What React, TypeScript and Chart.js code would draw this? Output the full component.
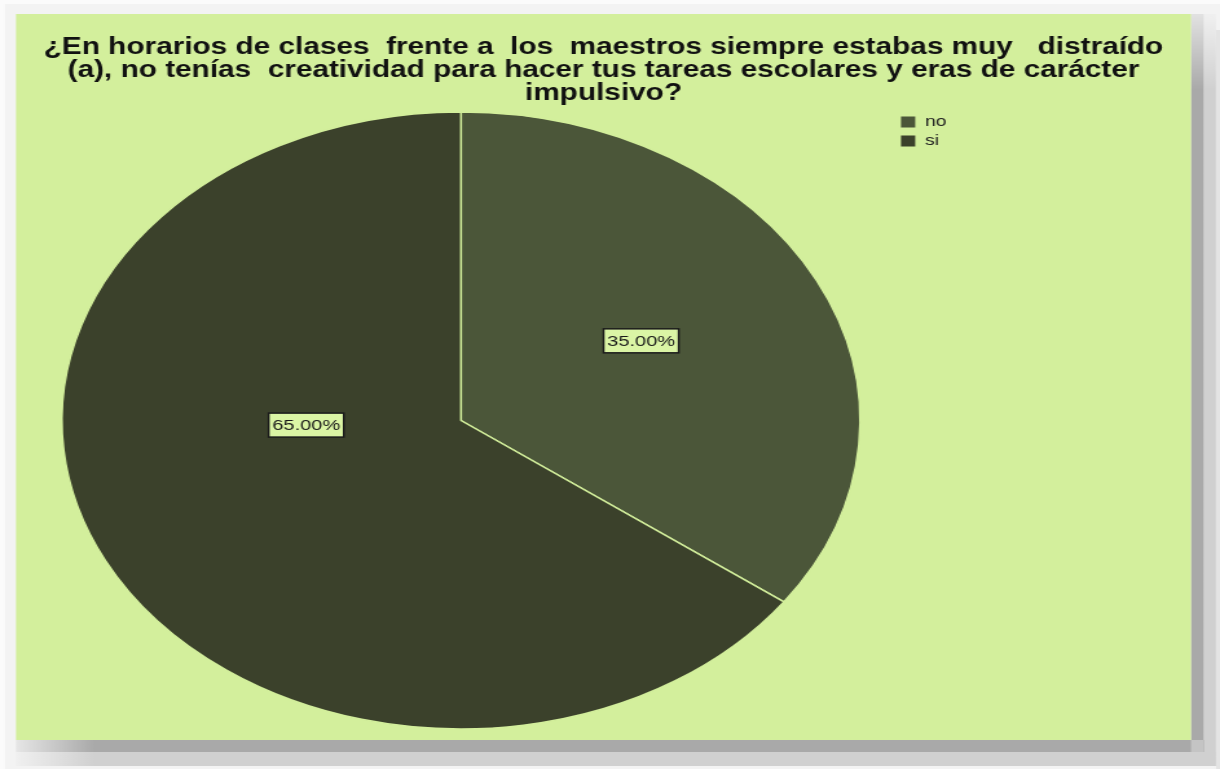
import React, { useEffect, useRef } from 'react';
import { Chart, registerables } from 'chart.js';

Chart.register(...registerables);

// ---------- data ----------
const categories = ['no', 'si'];
const percentValues = [35, 65];
const sliceColors = ['#4b5639', '#3b412b'];
const titleLines = [
  '¿En horarios de clases  frente a  los  maestros siempre estabas muy   distraído',
  '(a), no tenías  creatividad para hacer tus tareas escolares y eras de carácter',
  'impulsivo?',
];

// ---------- layout constants ----------
const PAGE_W = 1220;
const PAGE_H = 769;
const CW = 943; // canvas bitmap width (stretched horizontally by CSS to 1220)
const CH = 769;
const S = PAGE_W / CW;
const FONT = "'Liberation Sans', Arial, Helvetica, sans-serif";
const PANEL_COLOR = '#d3ef9c';
const LABEL_PLACEMENT = [
  { t: 0.478, r: 0.52 },
  { t: 0.606, r: 0.388 },
];

const X = (v: number) => v / S;

const backgroundPlugin = {
  id: 'pageBackground',
  beforeDraw(chart: any) {
    const ctx: CanvasRenderingContext2D = chart.ctx;
    ctx.save();
    ctx.fillStyle = '#f3f3f3';
    ctx.fillRect(0, 0, CW, CH);
    ctx.fillStyle = '#fbfbfb';
    ctx.fillRect(0, 0, CW, 4);
    ctx.fillRect(0, 0, X(5), CH);

    // right shadow
    let g = ctx.createLinearGradient(0, 14, 0, 90);
    g.addColorStop(0, '#e2e2e2');
    g.addColorStop(1, '#a9a9a9');
    ctx.fillStyle = g;
    ctx.fillRect(X(1191), 14, X(1204) - X(1191), 752 - 14);
    g = ctx.createLinearGradient(0, 14, 0, 90);
    g.addColorStop(0, '#f0f0f0');
    g.addColorStop(1, '#d0d0d0');
    ctx.fillStyle = g;
    ctx.fillRect(X(1204), 14, X(1216) - X(1204), 752 - 14);
    ctx.fillStyle = '#e4e4e4';
    ctx.fillRect(X(1216), 30, X(1220) - X(1216), 740);

    // bottom shadow
    g = ctx.createLinearGradient(X(16), 0, X(95), 0);
    g.addColorStop(0, '#e6e6e6');
    g.addColorStop(1, '#a9a9a9');
    ctx.fillStyle = g;
    ctx.fillRect(X(16), 740, X(1204) - X(16), 12);
    g = ctx.createLinearGradient(X(16), 0, X(95), 0);
    g.addColorStop(0, '#f0f0f0');
    g.addColorStop(1, '#d0d0d0');
    ctx.fillStyle = g;
    ctx.fillRect(X(16), 752, X(1216) - X(16), 14);
    ctx.fillStyle = '#c4c4c4';
    ctx.fillRect(X(1191), 740, X(1204) - X(1191), 12);

    // panel
    ctx.fillStyle = PANEL_COLOR;
    ctx.fillRect(X(16), 14, X(1191) - X(16), 740 - 14);
    ctx.restore();
  },
};

const titleCenterPlugin = {
  id: 'titleCenter',
  afterLayout(chart: any) {
    const tb = chart.titleBlock;
    if (tb) {
      tb.left = X(16);
      tb.right = X(1191);
      tb.width = tb.right - tb.left;
    }
  },
};

const pctLabelPlugin = {
  id: 'pctLabels',
  afterDatasetsDraw(chart: any) {
    const ctx: CanvasRenderingContext2D = chart.ctx;
    const meta = chart.getDatasetMeta(0);
    const data = chart.data.datasets[0].data as number[];
    const total = data.reduce((a, b) => a + b, 0);
    ctx.save();
    ctx.font = `15.5px ${FONT}`;
    ctx.textAlign = 'center';
    ctx.textBaseline = 'middle';
    meta.data.forEach((el: any, i: number) => {
      const p = el.getProps(['x', 'y', 'startAngle', 'endAngle', 'outerRadius'], true);
      const place = LABEL_PLACEMENT[i];
      const a = p.startAngle + (p.endAngle - p.startAngle) * place.t;
      const r = p.outerRadius * place.r;
      const cx = p.x + Math.cos(a) * r;
      const cy = p.y + Math.sin(a) * r;
      const text = ((data[i] / total) * 100).toFixed(2) + '%';
      const w = ctx.measureText(text).width + 5.5;
      const h = 24;
      ctx.fillStyle = '#dbf5a5';
      ctx.fillRect(cx - w / 2, cy - h / 2, w, h);
      ctx.lineWidth = 1.5;
      ctx.strokeStyle = '#1b1b1b';
      ctx.strokeRect(cx - w / 2, cy - h / 2, w, h);
      ctx.fillStyle = '#1a1a1a';
      ctx.fillText(text, cx, cy + 1);
    });
    ctx.restore();
  },
};

export default function App() {
  const ref = useRef<HTMLCanvasElement>(null);

  useEffect(() => {
    const canvas = ref.current;
    if (!canvas) return;
    const baseGen = (Chart.overrides as any).doughnut.plugins.legend.labels.generateLabels;
    const chart = new Chart(canvas, {
      type: 'pie',
      data: {
        labels: categories,
        datasets: [
          {
            data: percentValues,
            backgroundColor: sliceColors,
            borderColor: PANEL_COLOR,
            borderWidth: 1.5,
            radius: 308.5,
          } as any,
        ],
      },
      options: {
        responsive: false,
        animation: false,
        devicePixelRatio: 1,
        events: [],
        layout: {
          padding: { left: 20.2, right: 201.4, top: 0, bottom: 38.5 },
        },
        plugins: {
          title: {
            display: true,
            text: titleLines,
            color: '#111111',
            font: { family: FONT, size: 23, weight: 'bold', lineHeight: '23px' } as any,
            padding: { top: 36, bottom: 5.5 },
          },
          legend: {
            display: true,
            position: 'right',
            align: 'start',
            fullSize: false,
            labels: {
              boxWidth: 11,
              boxHeight: 11,
              padding: 4,
              color: '#222222',
              font: { family: FONT, size: 15 },
              generateLabels: (c: any) =>
                baseGen(c).map((it: any) => ({ ...it, lineWidth: 0 })),
            },
          },
          tooltip: { enabled: false },
        },
      },
      plugins: [backgroundPlugin, titleCenterPlugin, pctLabelPlugin],
    });
    return () => chart.destroy();
  }, []);

  return (
    <div
      style={{
        position: 'absolute',
        left: 0,
        top: 0,
        width: PAGE_W,
        height: PAGE_H,
        overflow: 'hidden',
      }}
    >
      <canvas
        ref={ref}
        width={CW}
        height={CH}
        style={{ width: `${PAGE_W}px`, height: `${PAGE_H}px`, display: 'block' }}
      />
    </div>
  );
}
